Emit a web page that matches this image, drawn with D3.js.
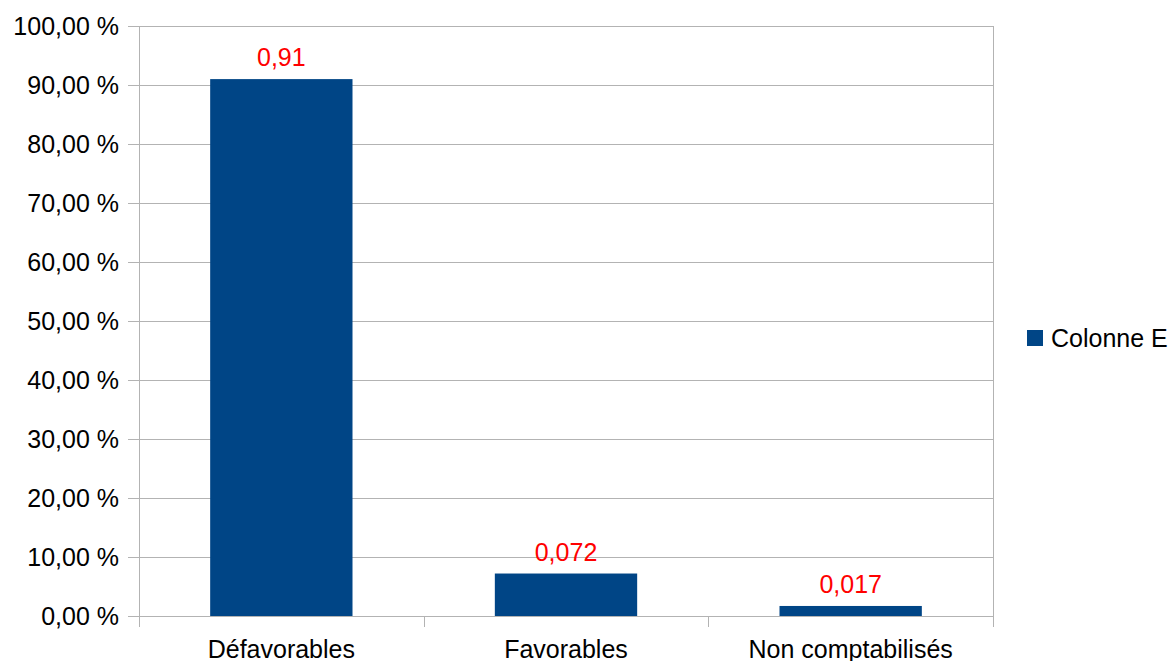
<!DOCTYPE html>
<html>
<head>
<meta charset="utf-8">
<script src="https://cdn.jsdelivr.net/npm/d3@7"></script>
<style>
  html, body { margin: 0; padding: 0; background: #fff; }
  svg { display: block; font-family: "Liberation Sans", Arial, sans-serif; }
</style>
</head>
<body>
<div id="chart"></div>
<script>
// Chart data
const categories = ["Défavorables", "Favorables", "Non comptabilisés"];
const values = [0.91, 0.072, 0.017];
const valueLabels = ["0,91", "0,072", "0,017"];
const yTicks = [0, 0.1, 0.2, 0.3, 0.4, 0.5, 0.6, 0.7, 0.8, 0.9, 1.0];
const seriesName = "Colonne E";

const W = 1173, H = 661;
const PLOT = { left: 139, right: 993, top: 26, bottom: 616 };
const BAR_COLOR = "#004586";
const GRID_COLOR = "#b3b3b3";
const FONT = "25px";

const svg = d3.select("#chart").append("svg")
    .attr("width", W)
    .attr("height", H);

const x = d3.scaleBand()
    .domain(categories)
    .range([PLOT.left, PLOT.right])
    .paddingInner(0.5)
    .paddingOuter(0.25);

const y = d3.scaleLinear()
    .domain([0, 1])
    .range([PLOT.bottom, PLOT.top]);

const fmtPct = (v) => (v * 100).toFixed(2).replace(".", ",") + " %";

// Horizontal gridlines, extending slightly left of the axis like ticks
svg.append("g")
    .selectAll("line")
    .data(yTicks)
    .enter()
    .append("line")
    .attr("x1", PLOT.left - 11)
    .attr("x2", PLOT.right)
    .attr("y1", (d) => Math.round(y(d)) + 0.5)
    .attr("y2", (d) => Math.round(y(d)) + 0.5)
    .attr("stroke", GRID_COLOR)
    .attr("stroke-width", 1);

// Y tick labels
svg.append("g")
    .selectAll("text")
    .data(yTicks)
    .enter()
    .append("text")
    .attr("x", PLOT.left - 20)
    .attr("y", (d) => y(d))
    .attr("dy", "0.35em")
    .attr("text-anchor", "end")
    .attr("font-size", FONT)
    .attr("fill", "#000")
    .text(fmtPct);

// Vertical axis/frame lines and category ticks
const catTicks = d3.range(categories.length + 1).map((i) => PLOT.left + i * (PLOT.right - PLOT.left) / categories.length);
svg.append("g")
    .selectAll("line")
    .data(catTicks)
    .enter()
    .append("line")
    .attr("x1", (d) => Math.round(d) + 0.5)
    .attr("x2", (d) => Math.round(d) + 0.5)
    .attr("y1", (d, i) => (i === 0 || i === catTicks.length - 1) ? PLOT.top : PLOT.bottom)
    .attr("y2", PLOT.bottom + 11)
    .attr("stroke", GRID_COLOR)
    .attr("stroke-width", 1);

// Bars
svg.append("g")
    .selectAll("rect")
    .data(values)
    .enter()
    .append("rect")
    .attr("x", (d, i) => x(categories[i]))
    .attr("y", (d) => y(d))
    .attr("width", x.bandwidth())
    .attr("height", (d) => y(0) - y(d))
    .attr("fill", BAR_COLOR);

// Value labels
svg.append("g")
    .selectAll("text")
    .data(values)
    .enter()
    .append("text")
    .attr("x", (d, i) => x(categories[i]) + x.bandwidth() / 2)
    .attr("y", (d) => y(d) - 13)
    .attr("text-anchor", "middle")
    .attr("font-size", FONT)
    .attr("fill", "#ff0000")
    .text((d, i) => valueLabels[i]);

// Category labels
svg.append("g")
    .selectAll("text")
    .data(categories)
    .enter()
    .append("text")
    .attr("x", (d) => x(d) + x.bandwidth() / 2)
    .attr("y", 658)
    .attr("text-anchor", "middle")
    .attr("font-size", FONT)
    .attr("fill", "#000")
    .text((d) => d);

// Legend
const legend = svg.append("g").attr("transform", "translate(1027, 330)");
legend.append("rect")
    .attr("width", 16)
    .attr("height", 16)
    .attr("fill", BAR_COLOR);
legend.append("text")
    .attr("x", 24)
    .attr("y", 8)
    .attr("dy", "0.35em")
    .attr("font-size", FONT)
    .attr("fill", "#000")
    .text(seriesName);
</script>
</body>
</html>
